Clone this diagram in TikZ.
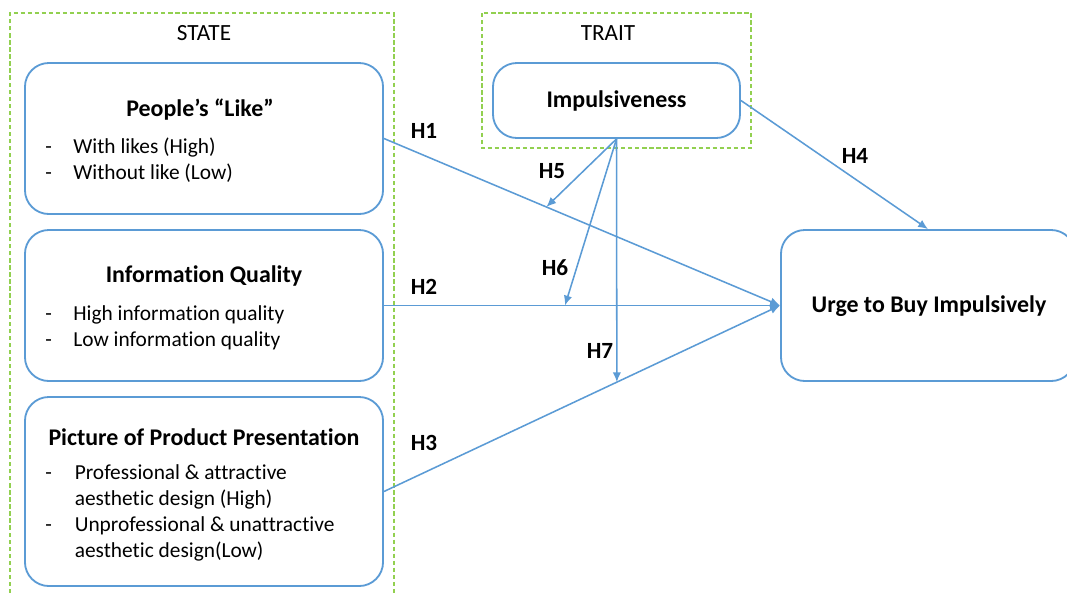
\documentclass[tikz,border=0pt]{standalone}
\usepackage{fontspec}
\setmainfont{Carlito}[Ligatures=NoCommon]
\usepackage{xcolor}
\usetikzlibrary{arrows.meta, positioning, calc}

\definecolor{lineblue}{RGB}{91,155,213}
\definecolor{dashgreen}{RGB}{146,208,80}

\begin{document}
\begin{tikzpicture}[
    x=0.025cm, y=-0.025cm,
    box/.style={draw=lineblue, line width=1.3pt, rounded corners=17pt, fill=white},
    group/.style={draw=dashgreen, line width=0.9pt, dash pattern=on 3pt off 2pt},
    title/.style={font=\fontsize{17}{20}\selectfont\bfseries},
    items/.style={font=\fontsize{15.2}{18.4}\selectfont, anchor=north west, inner sep=0pt},
    hyp/.style={font=\fontsize{16.5}{19}\selectfont\bfseries},
    grp/.style={font=\fontsize{16.5}{19}\selectfont},
    link/.style={draw=lineblue, line width=1.1pt, -{Latex[length=7pt,width=6pt]}}
]
    \useasboundingbox (0,0) rectangle (1067,594);

    % State and trait groups
    \draw[group] (10,600) |- (394,13) -- (394,600);
    \node[grp] (statelbl) at (204,33) {STATE};
    \draw[group] (482,13) rectangle (751,148);
    \node[grp] (traitlbl) at (608,33) {TRAIT};

    % State boxes
    \node[box, minimum width=8.95cm, minimum height=3.775cm] (like) at (204,138.5) {};
    \node[title] (liket) at (200,110) {People’s “Like”};
    \node[items] (likel) at (45,135) {\begin{tabular}{@{}p{20pt}@{}l@{}}
        - & With likes (High)\\
        - & Without like (Low)
    \end{tabular}};

    \node[box, minimum width=8.95cm, minimum height=3.775cm] (info) at (204,305.5) {};
    \node[title] (infot) at (204,276) {Information Quality};
    \node[items] (infol) at (45,302) {\begin{tabular}{@{}p{20pt}@{}l@{}}
        - & High information quality\\
        - & Low information quality
    \end{tabular}};

    \node[box, minimum width=8.95cm, minimum height=4.725cm] (pict) at (204,491.5) {};
    \node[title] (pictt) at (204,437) {Picture of Product Presentation};
    \node[items] (pictl) at (45,461) {\begin{tabular}{@{}p{21pt}@{}l@{}}
        - & Professional \& attractive\\
          & aesthetic design (High)\\
        - & Unprofessional \& unattractive\\
          & aesthetic design(Low)
    \end{tabular}};

    % Trait box
    \node[box, minimum width=6.175cm, minimum height=1.875cm, title] (impl) at (616.5,100.5) {Impulsiveness};

    % Outcome
    \node[box, minimum width=7.35cm, minimum height=3.775cm] (urge) at (928,305.5) {};
    \node[title] (urget) at (929,306) {Urge to Buy Impulsively};

    % Direct effects
    \draw[link] (like.east) -- (urge.west);
    \draw[link] (info.east) -- (urge.west);
    \draw[link] (pict.east) -- (urge.west);
    \draw[link] (impl.east) -- (urge.north);

    % Moderation targets
    \path (like.east) -- (urge.west) coordinate[pos=0.41] (m5);
    \path (info.east) -- (urge.west) coordinate[pos=0.457] (m6);
    \path (pict.east) -- (urge.west) coordinate[pos=0.588] (m7);
    \draw[link] (impl.south) -- (m5);
    \draw[link] (impl.south) -- (m6);
    \draw[link] (impl.south) -- (m7);

    % Hypothesis labels
    \node[hyp] (h1) at (424,131) {H1};
    \node[hyp] (h2) at (424,287) {H2};
    \node[hyp] (h3) at (424,443) {H3};
    \node[hyp] (h4) at (855,156) {H4};
    \node[hyp] (h5) at (552,171) {H5};
    \node[hyp] (h6) at (555,268) {H6};
    \node[hyp] (h7) at (600,351) {H7};
\end{tikzpicture}
\end{document}
